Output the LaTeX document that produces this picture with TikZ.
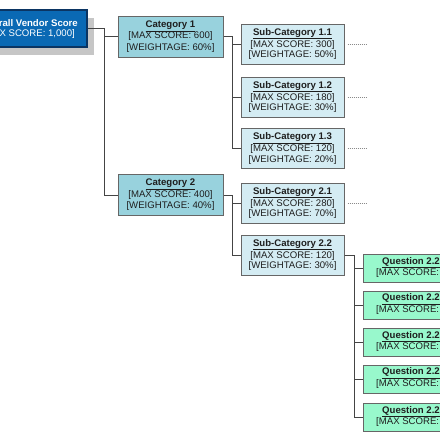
\documentclass[tikz,border=0pt]{standalone}
\usepackage{fontspec}
\setmainfont{Liberation Sans}
\usetikzlibrary{calc}
\definecolor{rootfill}{HTML}{0A69B4}
\definecolor{rootline}{HTML}{0B3563}
\definecolor{shadowc}{HTML}{C6C6C6}
\definecolor{catfill}{HTML}{98D2DD}
\definecolor{subfill}{HTML}{D4ECF3}
\definecolor{qfill}{HTML}{98F8CC}
\definecolor{boxline}{HTML}{666666}
\definecolor{linec}{HTML}{444444}
\definecolor{dotc}{HTML}{8A8A8A}
\definecolor{textc}{HTML}{1E1E1E}
\begin{document}
\begin{tikzpicture}[x=1pt,y=-1pt,
  box/.style={draw=boxline, line width=1pt, inner sep=0pt, align=center, text=textc},
  cat/.style={box, fill=catfill, minimum width=105pt, minimum height=41pt, font=\fontsize{9.6}{11.5}\selectfont},
  sub/.style={box, fill=subfill, minimum width=103pt, minimum height=40pt, font=\fontsize{9.6}{10.8}\selectfont},
  qbox/.style={draw=boxline, line width=1pt, fill=qfill, minimum width=120pt, minimum height=28pt, inner sep=0pt, anchor=west},
  link/.style={draw=linec, line width=0.8pt},
  dots/.style={draw=dotc, line width=0.5pt, dash pattern=on 1pt off 1pt},
  lbl/.style={inner sep=0pt, anchor=west, text=textc, font=\fontsize{9.6}{10.8}\selectfont},
  rlbl/.style={inner sep=0pt, anchor=east, text=white, font=\fontsize{9.6}{10.8}\selectfont}
]
\useasboundingbox (0,0) rectangle (440,440);
\clip (0,0) rectangle (440,440);
\fill[white] (0,0) rectangle (440,440);

% root
\fill[shadowc] (-18,18) rectangle (94,55);
\node[draw=rootline, line width=1.4pt, fill=rootfill, minimum width=112pt, minimum height=37pt, inner sep=0pt] (root) at (31,28.5) {};
\node[rlbl, font=\fontsize{9.6}{10.8}\selectfont\bfseries] (rt1) at (78,23) {rall Vendor Score};
\node[rlbl] (rt2) at (75,34.5) {X SCORE: 1,000]};

% categories
\node[cat] (c1) at (170.5,36.5) {\underline{\textbf{Category 1}}\\{[}MAX SCORE: 600]\\{[}WEIGHTAGE: 60\%]};
\node[cat] (c2) at (170.5,195) {\underline{\textbf{Category 2}}\\{[}MAX SCORE: 400]\\{[}WEIGHTAGE: 40\%]};

% sub-categories
\node[sub] (s11) at (292.5,44) {\underline{\textbf{Sub-Category 1.1}}\\{[}MAX SCORE: 300]\\{[}WEIGHTAGE: 50\%]};
\node[sub] (s12) at (292.5,97) {\underline{\textbf{Sub-Category 1.2}}\\{[}MAX SCORE: 180]\\{[}WEIGHTAGE: 30\%]};
\node[sub] (s13) at (292.5,148.5) {\underline{\textbf{Sub-Category 1.3}}\\{[}MAX SCORE: 120]\\{[}WEIGHTAGE: 20\%]};
\node[sub] (s21) at (292.5,203) {\underline{\textbf{Sub-Category 2.1}}\\{[}MAX SCORE: 280]\\{[}WEIGHTAGE: 70\%]};
\node[sub] (s22) at (292.5,255) {\underline{\textbf{Sub-Category 2.2}}\\{[}MAX SCORE: 120]\\{[}WEIGHTAGE: 30\%]};

% questions
\foreach \i/\y in {1/268.5,2/305,3/342.5,4/379,5/417.5}{
  \node[qbox] (q\i) at (363,\y) {};
  \path (q\i.west) ++(19,-6) node[lbl, font=\fontsize{9.6}{10.8}\selectfont\bfseries] (q\i a) {\underline{Question 2.2}};
  \path (q\i.west) ++(13,5) node[lbl] (q\i b) {{[}MAX SCORE:};
}

% connectors
\draw[link] (root.east) -- ++(17,0) |- (c1.west);
\draw[link] (root.east) ++(17,0) |- (c2.west);
\draw[link] (c1.east) -- ++(9,0) |- (s11.west);
\draw[link] (c1.east) ++(9,0) |- (s12.west);
\draw[link] (c1.east) ++(9,0) |- (s13.west);
\draw[link] (c2.east) -- ++(9,0) |- (s21.west);
\draw[link] (c2.east) ++(9,0) |- (s22.west);
\foreach \i in {1,...,5}{
  \draw[link] (s22.east) -- ++(10,0) |- (q\i.west);
}

% dotted continuations
\foreach \n in {s11,s12,s13,s21}{
  \draw[dots] ([xshift=3pt]\n.east) -- ++(20,0);
}
\end{tikzpicture}
\end{document}
